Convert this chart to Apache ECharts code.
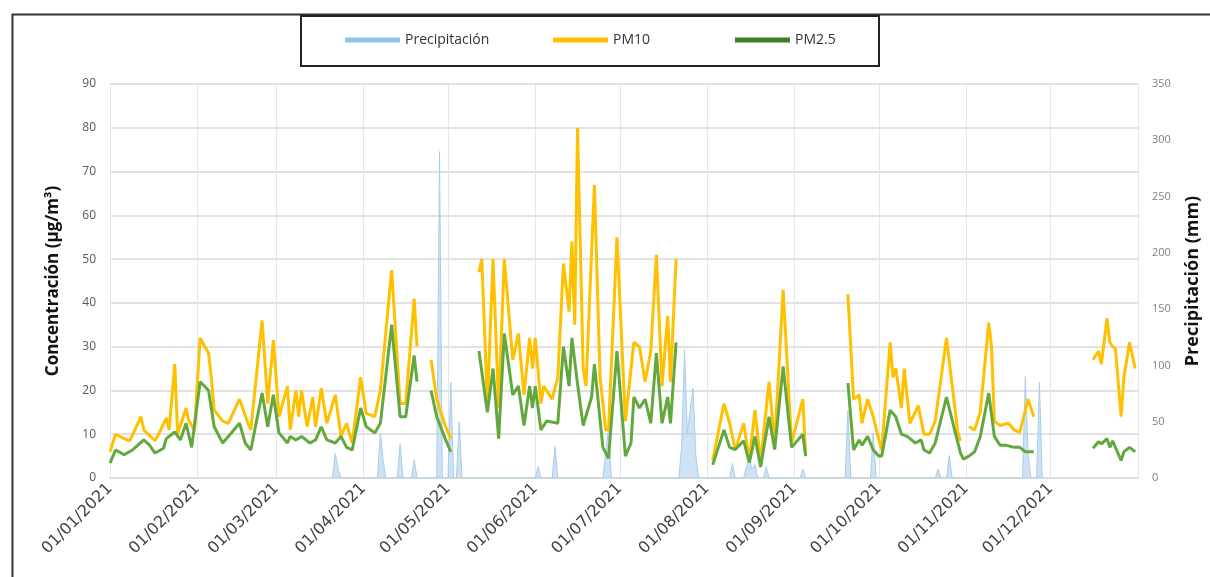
<!DOCTYPE html>
<html lang="es">
<head>
<meta charset="UTF-8">
<title>Precipitación, PM10 y PM2.5 - 2021</title>
<style>
  html, body { margin: 0; padding: 0; background: #fff; }
  #chart { width: 1210px; height: 577px; }
</style>
</head>
<body>
<div id="chart"></div>
<script src="https://cdn.jsdelivr.net/npm/echarts@6/dist/echarts.min.js"></script>
<script>
// day of year (0 = 01/01/2021), value ; null = no data
var pm10 = [
  [0,6],[2,10],[5,9],[7,8.5],[11,14],[12,11],[16,8.5],[18,11],[20,13.7],[21,11],[23,26],[24,10],[27,16],[28,13],[30,11],
  [32,32],[35,28.5],[36,22.7],[37,15.5],[40,13],[42,12.5],[46,18],[49,12.5],[50,11],[54,36],[56,17],[58,31.5],
  [60,14],[63,21],[64,11],[66,20],[67,14],[68,20],[70,11.7],[72,18.5],[73,11.7],[75,20.5],[77,12.5],[80,19],[82,9.5],[84,12.5],[86,8],[89,23],
  [91,14.7],[94,14],[96,20],[100,47.5],[103,17],[105,17],[108,41],[109,30],[110,null],
  [114,27],[116,18],[119,12],[121,9],[122,null],
  [131,47],[132,50],[134,17],[136,50],[138,16],[140,50],[143,27],[145,33],[147,19],[149,32],[150,25],[151,32],
  [153,17],[154,21],[157,18],[159,23],[161,49],[163,38],[164,54],[165,35],[166,80],[168,25],[169,21],[172,67],[174,23],[176,11],[177,11],[180,55],
  [183,13],[186,31],[188,30],[190,22],[192,29],[194,51],[196,21],[198,37],[199,22],[201,50],[202,null],
  [214,4],[218,17],[220,12.5],[222,6.4],[225,12.5],[227,4],[229,15.5],[231,3.5],[234,22],[236,8],[239,43],[242,8],[246,18],[247,5],[248,null],
  [262,42],[264,18],[266,19],[267,12.5],[269,18],[271,14],[273,8.7],[274,6.4],[277,31],[278,23],[279,25],[281,16],[282,25],[284,12.5],
  [287,16.5],[289,10],[291,10],[293,13],[297,32],[301,10.5],[302,8.5],[303,null],
  [305,11.7],[307,11],[309,15],[312,35.5],[313,30],[314,13],[316,12],[319,12.5],[321,11],[323,10.4],[326,18],[328,14],[329,null],
  [349,27],[351,29],[352,26],[354,36.5],[355,31],[356,30],[357,29.5],[359,14],[360,23],[362,31],[364,25]
];

var pm25 = [
  [0,3.4],[2,6.4],[5,5.3],[8,6.4],[12,8.7],[14,7.5],[16,5.7],[19,6.8],[20,9],[23,10.5],[25,8.7],[27,12.5],[29,7],
  [32,22],[35,20],[37,11.7],[40,8],[42,9.5],[46,12.5],[48,8],[50,6.4],[54,19.4],[56,11.7],[58,19],
  [60,10.3],[63,8],[64,9.5],[66,8.7],[68,9.5],[71,8],[73,8.7],[75,11.7],[77,8.7],[80,8],[82,9.5],[84,7],[86,6.4],[89,16],
  [91,11.7],[94,10.3],[96,12.5],[100,35],[103,14],[105,14],[108,28],[109,22],[110,null],
  [114,20],[116,14],[119,9],[121,6],[122,null],
  [131,29],[134,15],[136,25],[138,9],[140,33],[143,19],[145,21],[147,12],[149,21],[150,16],[151,21],
  [153,11],[155,13],[159,12.5],[161,30],[163,21],[164,32],[166,21.5],[168,12],[171,18.5],[172,26],[175,7],[177,4.5],[180,29],
  [183,5],[185,8],[186,18.5],[188,16],[190,18],[192,12.5],[194,28.5],[196,12.5],[198,18.5],[199,12.5],[201,31],[202,null],
  [214,3],[218,11],[220,7],[222,6.5],[225,8.5],[227,3.5],[229,9.5],[231,2.5],[234,14],[236,6.5],[239,25.5],[242,7],[246,10],[247,5],[248,null],
  [262,21.7],[264,6.4],[266,8.7],[267,7.5],[269,9.5],[271,6.4],[273,5],[274,5],[277,15.5],[279,14],[281,10],[283,9.5],
  [286,8],[288,8.7],[289,6.4],[291,5.7],[293,8],[297,18.5],[300,10.7],[302,5.7],[303,4.3],
  [305,5],[307,6],[309,9.5],[312,19.4],[314,9.5],[316,7.5],[318,7.5],[321,7],[323,7],[325,6],[328,6],[329,null],
  [349,6.8],[351,8.3],[352,7.8],[354,9],[355,7],[356,8.5],[359,4],[360,6],[362,7],[364,6]
];

// mm
var precip = [
  [79,0],[80,22],[81,8],[82,0],[95,0],[96,40],[97,15],[98,0],[102,0],[103,30],[104,0],[107,0],[108,16],[109,0],
  [116,0],[117,290],[118,0],[120,0],[121,85],[122,0],[123,0],[124,50],[125,0],
  [151,0],[152,10],[153,0],[157,0],[158,28],[159,0],[175,0],[176,22],[177,45],[178,0],
  [202,0],[203,30],[204,114],[205,40],[206,60],[207,80],[208,20],[209,0],
  [220,0],[221,13],[222,0],[225,0],[226,10],[227,16],[228,8],[229,12],[230,0],[232,0],[233,10],[234,0],
  [245,0],[246,8],[247,0],[261,0],[262,60],[263,0],[270,0],[271,40],[272,0],
  [293,0],[294,8],[295,0],[297,0],[298,20],[299,0],
  [324,0],[325,90],[326,20],[327,0],[329,0],[330,85],[331,0]
];

var seriesNames = ['Precipitación', 'PM10', 'PM2.5'];

function dayToTime(d) {
  return new Date(2021, 0, 1 + d).getTime();
}
function toSeries(arr) {
  return arr.map(function (p) {
    return [dayToTime(p[0]), p[1] === null ? '-' : p[1]];
  });
}
function pad(n) { return n < 10 ? '0' + n : '' + n; }

var font = 'Open Sans';
var myChart = echarts.init(document.getElementById('chart'));

myChart.setOption({
  animation: false,
  backgroundColor: '#fff',
  textStyle: { fontFamily: font },
  graphic: [
    // outer frame
    { type: 'rect', left: 10, top: 12, shape: { width: 1230, height: 600 },
      style: { fill: 'none', stroke: '#333', lineWidth: 2 }, z: 0 },
    // legend box
    { type: 'rect', left: 300, top: 15, shape: { width: 578, height: 50 },
      style: { fill: '#fff', stroke: '#222', lineWidth: 2 }, z: 1 }
  ],
  legend: [
    { data: [{ name: seriesNames[0], itemStyle: { color: '#8EC3E8' } }], left: 345, top: 33, padding: 0,
      icon: 'rect', itemWidth: 55, itemHeight: 5, textStyle: { fontSize: 14, color: '#333' }, z: 5 },
    { data: [{ name: seriesNames[1], itemStyle: { color: '#FFC000' } }], left: 553, top: 33, padding: 0,
      icon: 'rect', itemWidth: 55, itemHeight: 5, textStyle: { fontSize: 14, color: '#333' }, z: 5 },
    { data: [{ name: seriesNames[2], itemStyle: { color: '#3D7F25' } }], left: 735, top: 33, padding: 0,
      icon: 'rect', itemWidth: 55, itemHeight: 5, textStyle: { fontSize: 14, color: '#333' }, z: 5 }
  ],
  grid: { left: 110, right: 65, top: 84, bottom: 99 },
  xAxis: {
    type: 'time',
    min: dayToTime(0),
    max: dayToTime(365),
    minInterval: 28 * 86400000,
    maxInterval: 31 * 86400000,
    axisLine: { lineStyle: { color: '#D9D9D9' } },
    axisTick: { show: false },
    splitLine: { show: true, lineStyle: { color: '#E3E7EC', width: 1 } },
    axisLabel: {
      rotate: 45,
      margin: 8,
      fontSize: 16,
      fontFamily: 'DejaVu Sans',
      color: '#404040',
      hideOverlap: false,
      showMaxLabel: false,
      formatter: function (v) {
        var d = new Date(v);
        if (d.getFullYear() > 2021 || d.getDate() !== 1) return '';
        return pad(d.getDate()) + '/' + pad(d.getMonth() + 1) + '/' + d.getFullYear();
      }
    }
  },
  yAxis: [
    {
      type: 'value', min: 0, max: 90, interval: 10,
      name: 'Concentración (µg/m³)',
      nameLocation: 'middle', nameGap: 48, nameRotate: 90,
      nameTextStyle: { fontSize: 17, fontWeight: 'bold', color: '#111' },
      axisLine: { show: false }, axisTick: { show: false },
      axisLabel: { fontSize: 12, color: '#595959', margin: 14 },
      splitLine: { lineStyle: { color: '#D9D9D9', width: 1.5 } }
    },
    {
      type: 'value', min: 0, max: 350, interval: 50,
      name: 'Precipitación (mm)',
      nameLocation: 'middle', nameGap: 46, nameRotate: 90,
      nameTextStyle: { fontSize: 18, fontWeight: 'bold', color: '#111' },
      axisLine: { show: false }, axisTick: { show: false },
      axisLabel: { fontSize: 11, color: '#7F7F7F', margin: 14 },
      splitLine: { show: false }
    }
  ],
  series: [
    {
      name: seriesNames[0], type: 'line', yAxisIndex: 1,
      data: toSeries(precip),
      symbol: 'none',
      lineStyle: { color: '#A9CDEB', width: 1 },
      itemStyle: { color: '#A9CDEB' },
      areaStyle: { color: 'rgba(160,200,235,0.75)' },
      z: 1
    },
    {
      name: seriesNames[1], type: 'line',
      data: toSeries(pm10),
      symbol: 'none',
      lineStyle: { color: '#FFC000', width: 3 },
      itemStyle: { color: '#FFC000' },
      z: 2
    },
    {
      name: seriesNames[2], type: 'line',
      data: toSeries(pm25),
      symbol: 'none',
      lineStyle: { color: '#62A83E', width: 3 },
      itemStyle: { color: '#62A83E' },
      z: 3
    }
  ]
});
</script>
</body>
</html>
